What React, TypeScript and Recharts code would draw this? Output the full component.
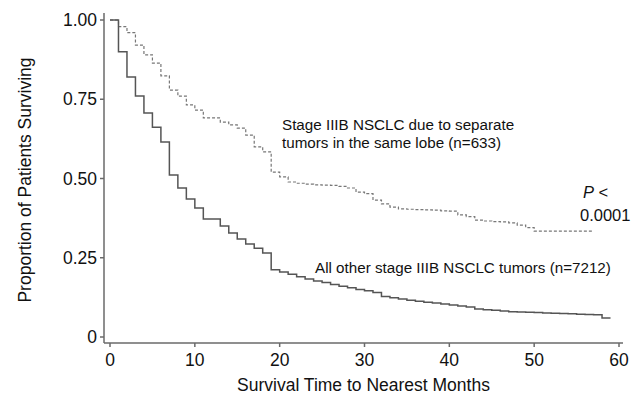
import { LineChart, Line, XAxis, YAxis } from 'recharts'

// survival time, months
const months = [
  0, 1, 2, 3, 4, 5, 6, 7, 8, 9, 10, 11, 12, 13, 14, 15, 16, 17, 18, 19,
  20, 21, 22, 23, 24, 25, 26, 27, 28, 29, 30, 31, 32, 33, 34, 35, 36, 37, 38, 39,
  40, 41, 42, 43, 44, 45, 46, 47, 48, 49, 50, 51, 52, 53, 54, 55, 56, 57, 58, 59,
]

// Stage IIIB due to separate tumors in the same lobe (n=633)
const sameLobe = [
  1.0, 0.979, 0.96, 0.921, 0.89, 0.864, 0.824, 0.779, 0.76, 0.732,
  0.716, 0.691, 0.691, 0.678, 0.669, 0.659, 0.637, 0.6, 0.584, 0.52,
  0.505, 0.489, 0.485, 0.482, 0.48, 0.479, 0.478, 0.475, 0.47, 0.457,
  0.452, 0.432, 0.42, 0.41, 0.404, 0.403, 0.402, 0.401, 0.4, 0.398,
  0.397, 0.385, 0.38, 0.369, 0.366, 0.364, 0.363, 0.36, 0.353, 0.345,
  0.334, 0.334, 0.334, 0.334, 0.334, 0.334, 0.334, 0.334,
]

// All other stage IIIB tumors (n=7212)
const allOther = [
  1.0, 0.9, 0.82, 0.76, 0.707, 0.662, 0.615, 0.511, 0.47, 0.435,
  0.407, 0.372, 0.372, 0.35, 0.328, 0.309, 0.293, 0.28, 0.265, 0.212,
  0.205, 0.198, 0.19, 0.183, 0.177, 0.172, 0.166, 0.16, 0.155, 0.15,
  0.146, 0.14, 0.128, 0.124, 0.12, 0.116, 0.113, 0.11, 0.107, 0.104,
  0.101, 0.098, 0.095, 0.088, 0.086, 0.084, 0.082, 0.08, 0.079, 0.078,
  0.077, 0.076, 0.075, 0.074, 0.073, 0.072, 0.071, 0.07, 0.06, 0.06,
]

const xTicks = [0, 10, 20, 30, 40, 50, 60]
const yTicks = [0, 0.25, 0.5, 0.75, 1]

const data = months.map((m, i) => ({
  month: m,
  sameLobe: sameLobe[i],
  allOther: allOther[i],
}))

const font = '"Liberation Sans", Arial, sans-serif'
const axisColor = '#6a6a6a'

export default function App() {
  return (
    <div style={{ position: 'fixed', left: 0, top: 0, width: 639, height: 396, background: '#fff' }}>
      <LineChart
        width={639}
        height={396}
        data={data}
        margin={{ top: 13, right: 16, bottom: 0, left: 0 }}
        style={{ fontFamily: font }}
      >
        <XAxis
          dataKey="month"
          type="number"
          domain={[0, 60]}
          ticks={xTicks}
          padding={{ left: 6, right: 4 }}
          height={53}
          tickSize={4}
          tickMargin={7}
          stroke={axisColor}
          strokeWidth={1.5}
          tick={{ fontSize: 17.5, fill: '#111' }}
          tickFormatter={(v) => String(v)}
          label={{ value: 'Survival Time to Nearest Months', position: 'insideBottom', offset: 5, fontSize: 17.5, fill: '#111' }}
        />
        <YAxis
          type="number"
          domain={[0, 1]}
          ticks={yTicks}
          padding={{ top: 7, bottom: 6 }}
          width={104}
          tickSize={4}
          tickMargin={3}
          stroke={axisColor}
          strokeWidth={1.5}
          tick={{ fontSize: 17.5, fill: '#111' }}
          tickFormatter={(v) => (v === 0 ? '0' : v.toFixed(2))}
        />
        <Line
          type="stepAfter"
          dataKey="sameLobe"
          stroke="#777"
          strokeWidth={1.2}
          strokeDasharray="3 2"
          dot={false}
          activeDot={false}
          isAnimationActive={false}
        />
        <Line
          type="stepAfter"
          dataKey="allOther"
          stroke="#555"
          strokeWidth={1.5}
          dot={false}
          activeDot={false}
          isAnimationActive={false}
        />
        <text
          x={25}
          y={180}
          transform="rotate(-90 25 180)"
          textAnchor="middle"
          dominantBaseline="central"
          fontSize={17.5}
          fill="#111"
          fontFamily={font}
        >
          Proportion of Patients Surviving
        </text>
        <text x={282} y={130} fontSize={15.2} fill="#111" fontFamily={font}>
          Stage IIIB NSCLC due to separate
        </text>
        <text x={282} y={148} fontSize={15.2} fill="#111" fontFamily={font}>
          tumors in the same lobe (n=633)
        </text>
        <text x={583} y={198} fontSize={16.5} fill="#111" fontFamily={font}>
          <tspan fontStyle="italic">P</tspan> &lt;
        </text>
        <text x={580} y={221} fontSize={16.5} fill="#111" fontFamily={font}>
          0.0001
        </text>
        <text x={315} y={273} fontSize={15.2} fill="#111" fontFamily={font}>
          All other stage IIIB NSCLC tumors (n=7212)
        </text>
      </LineChart>
    </div>
  )
}
